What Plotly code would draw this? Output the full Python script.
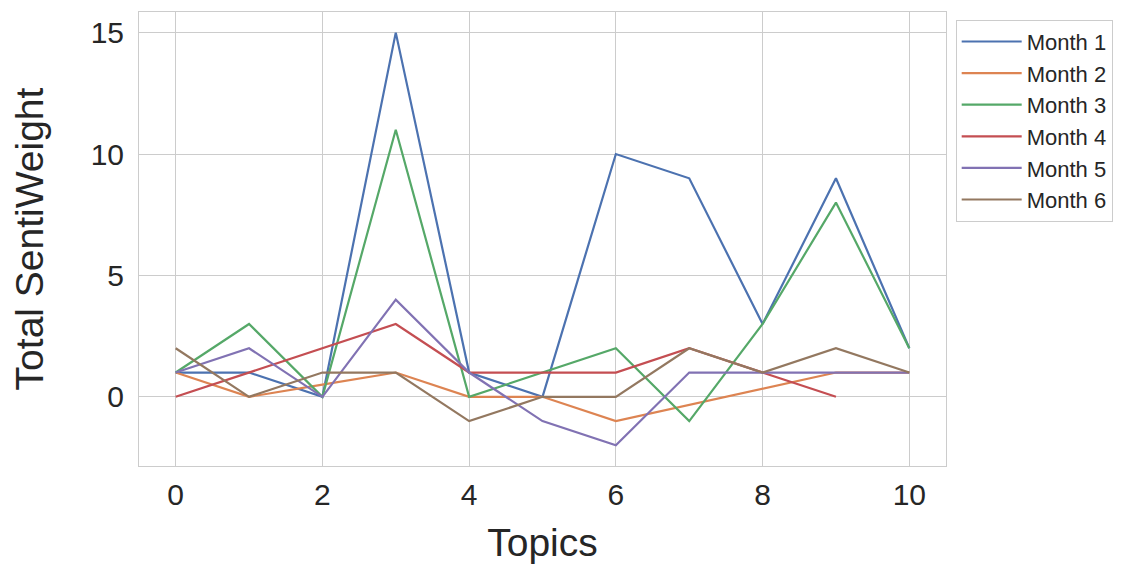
import plotly.graph_objects as go

topics = list(range(11))
month_names = ["Month 1", "Month 2", "Month 3", "Month 4", "Month 5", "Month 6"]
month1 = [1, 1, 0, 15, 1, 0, 10, 9, 3, 9, 2]
month2 = [1, 0, 0.5, 1, 0, 0, -1, -0.33, 0.33, 1, 1]
month3 = [1, 3, 0, 11, 0, 1, 2, -1, 3, 8, 2]
month4 = [0, 1, 2, 3, 1, 1, 1, 2, 1, 0]
month5 = [1, 2, 0, 4, 1, -1, -2, 1, 1, 1, 1]
month6 = [2, 0, 1, 1, -1, 0, 0, 2, 1, 2, 1]
series = [month1, month2, month3, month4, month5, month6]
colors = ["#4C72B0", "#DD8452", "#55A868", "#C44E52", "#8172B3", "#937860"]

FONT = "Liberation Sans, Arial, sans-serif"
TXT = "#262626"

fig = go.Figure()
for name, vals, c in zip(month_names, series, colors):
    fig.add_trace(go.Scatter(x=topics[:len(vals)], y=vals, mode="lines", name=name,
                             line=dict(color=c, width=2.2)))

fig.update_layout(
    width=1134, height=565,
    margin=dict(l=131, r=196, t=4, b=107),
    paper_bgcolor="white", plot_bgcolor="white",
    font=dict(family=FONT, color=TXT),
    legend=dict(x=1.012, y=0.983, xanchor="left", yanchor="top",
                bgcolor="white", bordercolor="#cccccc", borderwidth=1,
                itemwidth=60,
                font=dict(size=22, family=FONT, color=TXT)),
    showlegend=True,
)
fig.update_xaxes(range=[-0.5, 10.5], tickvals=[0, 2, 4, 6, 8, 10],
                 showgrid=True, gridcolor="#cccccc", gridwidth=1,
                 zeroline=False, showline=True, linecolor="#cccccc", mirror=True,
                 ticks="", tickfont=dict(size=30), ticklabelstandoff=2,
                 title=dict(text="Topics", font=dict(size=39), standoff=18))
fig.update_yaxes(range=[-2.85, 15.85], tickvals=[0, 5, 10, 15],
                 showgrid=True, gridcolor="#cccccc", gridwidth=1,
                 zeroline=False, showline=True, linecolor="#cccccc", mirror=True,
                 ticks="", tickfont=dict(size=30), ticklabelstandoff=8,
                 title=dict(text="Total SentiWeight", font=dict(size=39), standoff=40))

fig.write_html("out.html")
